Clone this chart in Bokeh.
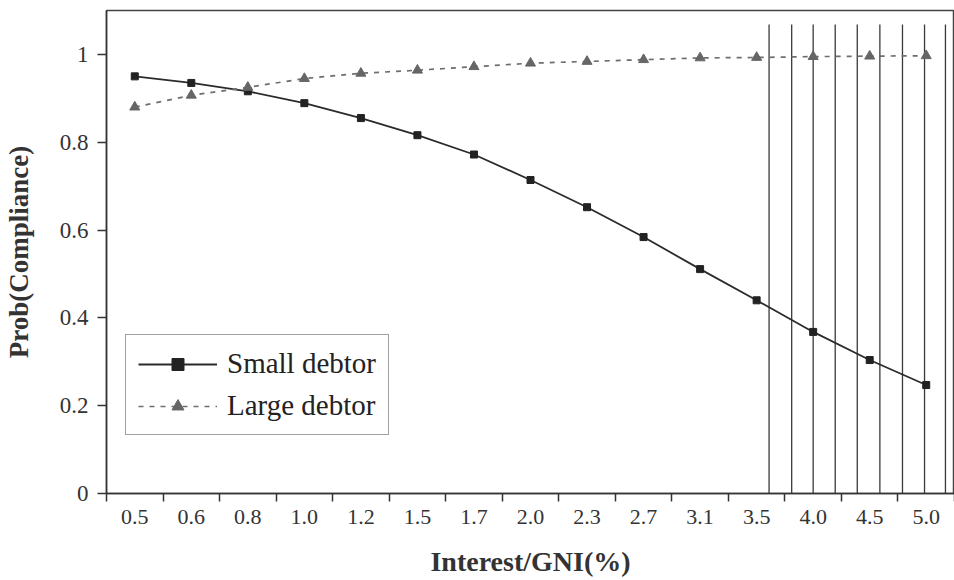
from bokeh.plotting import figure
from bokeh.models import (Range1d, FixedTicker, CustomJSTickFormatter, NumeralTickFormatter,
                          ColumnDataSource, Legend, LegendItem)
from bokeh.embed import file_html
from bokeh.resources import INLINE

# ---- data ----
x_labels = ["0.5", "0.6", "0.8", "1.0", "1.2", "1.5", "1.7", "2.0",
            "2.3", "2.7", "3.1", "3.5", "4.0", "4.5", "5.0"]
small_debtor = [0.950, 0.935, 0.916, 0.889, 0.855, 0.816, 0.772, 0.714,
                0.652, 0.584, 0.511, 0.440, 0.368, 0.304, 0.247]
large_debtor = [0.880, 0.907, 0.925, 0.945, 0.957, 0.964, 0.972, 0.980,
                0.984, 0.988, 0.992, 0.993, 0.995, 0.996, 0.997]
# vertical scan lines visible in the reference (x in category units)
scan_lines_x = [11.72, 12.12, 12.50, 12.89, 13.28, 13.68, 14.08, 14.47, 14.84]
scan_lines_top = 1.068
y_ticks = [0, 0.2, 0.4, 0.6, 0.8, 1.0]

n = len(x_labels)
xpos = [i + 0.5 for i in range(n)]

FONT = "Liberation Serif"
INK = "#2b2b2b"

p = figure(width=954, height=580, output_backend="svg", toolbar_location=None,
           x_range=Range1d(0, n), y_range=Range1d(0, 1.1),
           min_border_left=106, min_border_right=0, min_border_top=10, min_border_bottom=87)
p.background_fill_color = "white"
p.border_fill_color = "white"
p.outline_line_color = "#444444"
p.outline_line_width = 1.5
p.xgrid.visible = False
p.ygrid.visible = False

src = ColumnDataSource(dict(x=xpos, small=small_debtor, large=large_debtor))

# scan lines
p.segment(x0=scan_lines_x, y0=[0] * len(scan_lines_x), x1=scan_lines_x,
          y1=[scan_lines_top] * len(scan_lines_x), line_color="#3a3a3a", line_width=1.3)

r_small_line = p.line("x", "small", source=src, line_color=INK, line_width=1.8)
r_small_pts = p.scatter("x", "small", source=src, marker="square", size=7,
                        fill_color="#222222", line_color="#222222")
r_large_line = p.line("x", "large", source=src, line_color="#6e6e6e", line_width=1.7,
                      line_dash="5 6")
r_large_pts = p.scatter("x", "large", source=src, marker="triangle", size=10,
                        fill_color="#666666", line_color="#666666")

# x axis: labels at category centers, ticks at boundaries
xa = p.xaxis[0]
xa.ticker = FixedTicker(ticks=xpos, minor_ticks=list(range(n + 1)))
xa.formatter = CustomJSTickFormatter(args=dict(labels=x_labels),
                                     code="return labels[Math.floor(tick)];")
xa.major_tick_out = 0
xa.major_tick_in = 0
xa.minor_tick_out = 8
xa.minor_tick_in = 0
xa.minor_tick_line_color = "#333333"
xa.minor_tick_line_width = 1.5
xa.axis_line_color = "#333333"
xa.axis_line_width = 1.5
xa.major_label_text_font = FONT
xa.major_label_text_font_size = "22px"
xa.major_label_text_color = "#333333"
xa.major_label_standoff = 8
xa.axis_label = "Interest/GNI(%)"
xa.axis_label_text_font = FONT
xa.axis_label_text_font_size = "28px"
xa.axis_label_text_font_style = "bold"
xa.axis_label_text_color = "#333333"
xa.axis_label_standoff = 19

ya = p.yaxis[0]
ya.ticker = FixedTicker(ticks=y_ticks)
ya.formatter = NumeralTickFormatter(format="0.[0]")
ya.major_tick_out = 9
ya.major_tick_in = 0
ya.minor_tick_out = 0
ya.minor_tick_in = 0
ya.major_tick_line_color = "#333333"
ya.major_tick_line_width = 1.5
ya.axis_line_color = "#333333"
ya.axis_line_width = 1.5
ya.major_label_text_font = FONT
ya.major_label_text_font_size = "23px"
ya.major_label_text_color = "#333333"
ya.major_label_standoff = 9
ya.axis_label = "Prob(Compliance)"
ya.axis_label_text_font = FONT
ya.axis_label_text_font_size = "27px"
ya.axis_label_text_font_style = "bold"
ya.axis_label_text_color = "#333333"
ya.axis_label_standoff = 23

legend = Legend(items=[
    LegendItem(label="Small debtor", renderers=[r_small_line, r_small_pts]),
    LegendItem(label="Large debtor", renderers=[r_large_line, r_large_pts]),
], location=(19, 58))
legend.label_text_font = FONT
legend.label_text_font_size = "29px"
legend.label_text_color = "#222222"
legend.glyph_width = 79
legend.glyph_height = 30
legend.label_height = 30
legend.label_standoff = 10
legend.spacing = 9
legend.padding = 12
legend.margin = 0
legend.border_line_color = "#444444"
legend.border_line_width = 1.5
legend.background_fill_alpha = 1.0
p.add_layout(legend)

open("out.html", "w").write(file_html(p, INLINE))
